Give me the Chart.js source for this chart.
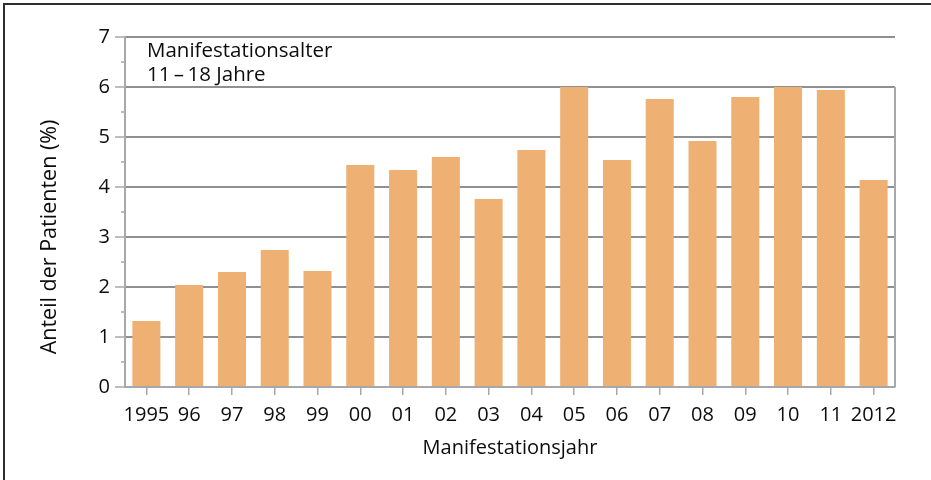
<!DOCTYPE html>
<html>
<head>
<meta charset="utf-8">
<script src="https://cdn.jsdelivr.net/npm/chart.js@4/dist/chart.umd.min.js"></script>
<style>
  html, body { margin:0; padding:0; background:#fff; }
  #wrap { width:931px; height:480px; position:relative; }
</style>
</head>
<body>
<div id="wrap"><canvas id="chart" width="931" height="480"></canvas></div>
<script>
/* data */
const years = ['1995','96','97','98','99','00','01','02','03','04','05','06','07','08','09','10','11','2012'];
const shares = [1.32, 2.04, 2.30, 2.74, 2.32, 4.44, 4.34, 4.60, 3.76, 4.74, 6.00, 4.54, 5.76, 4.92, 5.80, 6.00, 5.94, 4.14];
const yTicks = [0, 1, 2, 3, 4, 5, 6, 7];
const yMinorTicks = [0.5, 1.5, 2.5, 3.5, 4.5, 5.5, 6.5];
const noteLines = ['Manifestationsalter', '11\u2009\u2013\u200918 Jahre'];
const xTitle = 'Manifestationsjahr';
const yTitle = 'Anteil der Patienten (%)';
const rightFrameTop = 6;

const FONT = '"Open Sans", "Noto Sans", sans-serif';
const COLORS = {
  bar: '#eeb073', grid: '#8f8f96', axis: '#a7a7ac', text: '#0d0d0d', frame: '#2e2e2e',
};

const decor = {
  id: 'decor',
  afterDraw(chart) {
    const { ctx, chartArea } = chart;
    const y = chart.scales.y;
    ctx.save();
    // outer frame (top + left)
    ctx.strokeStyle = COLORS.frame;
    ctx.lineWidth = 2;
    ctx.beginPath();
    ctx.moveTo(4, 480); ctx.lineTo(4, 4); ctx.lineTo(931, 4);
    ctx.stroke();

    // right border of plot, only up to 6
    ctx.strokeStyle = COLORS.axis;
    ctx.lineWidth = 2;
    ctx.beginPath();
    ctx.moveTo(chartArea.right, y.getPixelForValue(rightFrameTop));
    ctx.lineTo(chartArea.right, y.getPixelForValue(0));
    ctx.stroke();

    // minor ticks on y axis
    ctx.lineWidth = 1.5;
    yMinorTicks.forEach(v => {
      const py = Math.round(y.getPixelForValue(v));
      ctx.beginPath();
      ctx.moveTo(chartArea.left - 4, py);
      ctx.lineTo(chartArea.left, py);
      ctx.stroke();
    });

    // y title
    ctx.fillStyle = COLORS.text;
    ctx.font = `21.5px ${FONT}`;
    ctx.save();
    ctx.translate(50, 237);
    ctx.rotate(-Math.PI / 2);
    ctx.textAlign = 'center';
    ctx.textBaseline = 'middle';
    ctx.fillText(yTitle, 0, 0);
    ctx.restore();

    // note in the top left corner
    ctx.textAlign = 'left';
    ctx.textBaseline = 'alphabetic';
    ctx.font = `20.5px ${FONT}`;
    noteLines.forEach((t, i) => ctx.fillText(t, chartArea.left + 22, 57 + i * 24));
    ctx.restore();
  }
};

new Chart(document.getElementById('chart').getContext('2d'), {
  type: 'bar',
  data: {
    labels: years,
    datasets: [{ data: shares, backgroundColor: COLORS.bar, borderWidth: 0, barPercentage: 0.655, categoryPercentage: 1 }]
  },
  options: {
    responsive: false,
    animation: false,
    layout: { padding: { left: 0, right: 36, top: 37, bottom: 0 } },
    plugins: { legend: { display: false }, tooltip: { enabled: false } },
    scales: {
      x: {
        afterFit: s => { s.height = 93; },
        grid: { offset: false, drawOnChartArea: false, drawTicks: true, tickLength: 8, color: COLORS.axis, lineWidth: 1.5 },
        border: { display: true, color: COLORS.axis, width: 2 },
        ticks: { color: COLORS.text, font: { size: 20, family: FONT }, padding: 8, autoSkip: false, maxRotation: 0 },
        title: { display: true, text: xTitle, color: COLORS.text, font: { size: 20, family: FONT }, padding: { top: 0, bottom: 20 } },
      },
      y: {
        min: 0, max: 7,
        afterFit: s => { s.width = 125; },
        afterBuildTicks: s => { s.ticks = yTicks.map(v => ({ value: v })); },
        grid: {
          color: c => c.tick && c.tick.value === 0 ? 'rgba(0,0,0,0)' : COLORS.grid,
          tickColor: COLORS.axis, lineWidth: 2, tickWidth: 1.5, tickLength: 10,
        },
        border: { display: true, color: COLORS.axis, width: 2 },
        ticks: { color: COLORS.text, font: { size: 20, family: FONT }, padding: 5 },
      }
    }
  },
  plugins: [decor]
});
</script>
</body>
</html>
